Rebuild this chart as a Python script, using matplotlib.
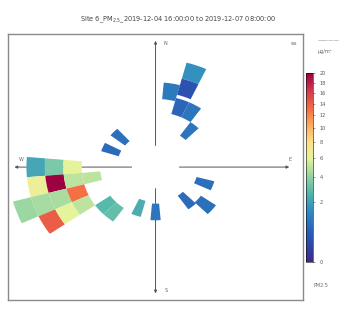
# plot.py
# Binned polar tile plot of PM2.5 by wind direction and wind speed, saved to out.png.

import numpy as np
import matplotlib
matplotlib.use("Agg")
import matplotlib.pyplot as plt
from matplotlib.patches import Wedge, Circle
from matplotlib.collections import PatchCollection
from matplotlib.colors import PowerNorm, LinearSegmentedColormap


# tile centres: wind direction (deg, clockwise from north), wind speed and mean PM2.5
wd = [20, 10, 20, 20, 30, 40,
      313, 293,
      270, 270, 270, 260, 260, 260, 260, 250, 250, 250, 250, 240, 240, 240, 230, 220,
      200, 180, 110, 140, 130]
ws = [15.0, 11.5, 12.5, 9.5, 9.5, 7.0,
      6.5, 6.5,
      16.25, 13.75, 11.25, 16.25, 13.75, 11.25, 8.75, 18.75, 16.25, 13.75, 11.25, 16.25, 13.75, 11.25, 8.75, 8.75,
      6.5, 6.75, 7.0, 6.5, 8.75]
pm = [1.6, 1.0, 0.3, 0.6, 0.9, 0.9,
      0.8, 0.7,
      2.2, 3.5, 6.0, 6.5, 20.0, 5.0, 5.0, 4.3, 4.5, 4.6, 13.0, 14.0, 6.0, 5.0, 2.8, 3.0,
      2.4, 0.9, 0.8, 0.7, 0.8]
cbar_ticks = [0, 2, 4, 6, 8, 10, 12, 14, 16, 18, 20]

title = "Site 6_PM$_{2.5}$_2019-12-04 16:00:00 to 2019-12-07 08:00:00"

fig = plt.figure(figsize=(3.63, 3.21), dpi=100)
ax = fig.add_axes([0.022, 0.065, 0.813, 0.829])
ax.set_xlim(-20, 20)
ax.set_ylim(-20, 20)
ax.set_xticks([])
ax.set_yticks([])
for s in ax.spines.values():
    s.set_color("#8a8a8a")
    s.set_linewidth(1.0)

# blue-heavy spectral palette like the reference
cmap = LinearSegmentedColormap.from_list("pm", [
    (0.0, "#3b2a88"), (0.14, "#2a58b6"), (0.27, "#2f8cc2"), (0.37, "#55b8ac"),
    (0.46, "#9ad6a2"), (0.55, "#e6f39a"), (0.63, "#fee08b"), (0.72, "#fdae61"),
    (0.81, "#f46d43"), (0.9, "#d53e4f"), (1.0, "#9e0142")])
norm = PowerNorm(gamma=0.5, vmin=0, vmax=20)

# direction arrows through the centre
arrow = dict(arrowstyle="<|-|>", color="#555555", lw=0.7, mutation_scale=4)
ax.annotate("", xy=(-19.5, 0), xytext=(18.5, 0), arrowprops=arrow, zorder=1)
ax.annotate("", xy=(0, 19.4), xytext=(0, -19.4), arrowprops=arrow, zorder=1)
ax.add_patch(Circle((0, 0), 3.2, facecolor="white", edgecolor="none", zorder=2))

# wind tiles, 10 degrees by 2.5 speed units each
patches = []
for d, r in zip(wd, ws):
    th = 90 - d
    patches.append(Wedge((0, 0), r + 1.25, th - 5, th + 5, width=2.5))
pc = PatchCollection(patches, cmap=cmap, norm=norm, edgecolor="none", zorder=3)
pc.set_array(np.array(pm))
ax.add_collection(pc)

lab = dict(fontsize=3.5, color="#666666")
ax.text(1.4, 18.6, "N", ha="center", va="center", **lab)
ax.text(18.2, 1.2, "E", ha="center", va="center", **lab)
ax.text(1.4, -18.5, "S", ha="center", va="center", **lab)
ax.text(-18.2, 1.2, "W", ha="center", va="center", **lab)
ax.text(18.8, 18.6, "ws", ha="center", va="center", **lab)

fig.text(0.49, 0.938, title, ha="center", va="center", fontsize=4.8, color="#444444")

cax = fig.add_axes([0.843, 0.184, 0.019, 0.589])
cb = fig.colorbar(plt.cm.ScalarMappable(norm=norm, cmap=cmap), cax=cax, ticks=cbar_ticks)
cb.outline.set_linewidth(0.4)
cb.ax.tick_params(labelsize=3.5, length=1.5, width=0.4, colors="#555555")
fig.text(0.905, 0.873, "\u2014\u2014\u2014\u2014", ha="center", va="center", fontsize=4, color="#777777")
fig.text(0.895, 0.84, "\u03bcg/m\u00b3", ha="center", va="center", fontsize=3.5, color="#666666")
fig.text(0.885, 0.11, "PM2.5", ha="center", va="center", fontsize=3.5, color="#666666")

fig.savefig("out.png", dpi=100)
